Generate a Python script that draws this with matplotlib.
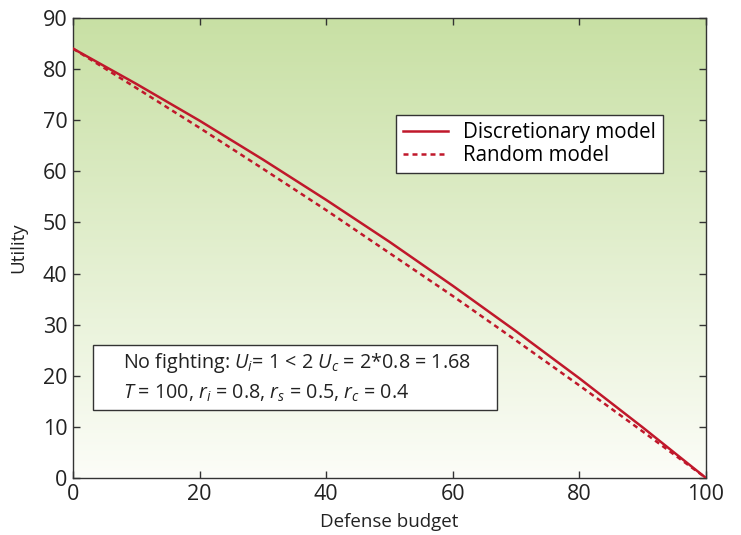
import matplotlib
matplotlib.use("Agg")
import matplotlib.pyplot as plt
from matplotlib.patches import Rectangle
import numpy as np

budget = [0, 10, 20, 30, 40, 50, 60, 70, 80, 90, 100]
discretionary = [84.0, 77.1, 69.9, 62.3, 54.4, 46.2, 37.6, 28.7, 19.5, 9.9, 0.0]
random_model = [84.0, 76.3, 68.5, 60.5, 52.4, 44.0, 35.6, 26.9, 18.1, 9.1, 0.0]
xticks = [0, 20, 40, 60, 80, 100]
yticks = [0, 10, 20, 30, 40, 50, 60, 70, 80, 90]

plt.rcParams['font.family'] = ['Open Sans', 'DejaVu Sans']
plt.rcParams['mathtext.fontset'] = 'custom'
plt.rcParams['mathtext.rm'] = 'Open Sans'
plt.rcParams['mathtext.it'] = 'Open Sans:italic'

fig = plt.figure(figsize=(7.41, 5.35), dpi=100)
ax = fig.add_axes([0.0985, 0.1065, 0.8543, 0.86])

top = np.array([200, 224, 164]) / 255
bot = np.array([252, 253, 248]) / 255
t = np.linspace(0, 1, 256)[:, None]
grad = (top * (1 - t) + bot * t)[:, None, :].repeat(2, axis=1)
ax.imshow(grad, extent=[0, 100, 0, 90], aspect='auto', zorder=0, origin='upper')

red = '#c0182b'
ax.plot(budget, discretionary, color=red, lw=1.8, label='Discretionary model', zorder=3)
ax.plot(budget, random_model, color=red, lw=1.8, ls=(0, (2.0, 1.6)), label='Random model', zorder=3)

ax.set_xlim(0, 100)
ax.set_ylim(0, 90)
ax.set_xticks(xticks)
ax.set_yticks(yticks)
ax.tick_params(direction='in', top=True, right=True, labelsize=15.5, length=5, width=1, pad=4,
               colors='#333333', labelcolor='#222222')
for s in ax.spines.values():
    s.set_color('#333333')
    s.set_linewidth(1)
ax.set_xlabel('Defense budget', fontsize=13.5, labelpad=6, color='#222222')
ax.set_ylabel('Utility', fontsize=13.5, labelpad=11, color='#222222')

leg = ax.legend(loc='upper left', bbox_to_anchor=(0.51, 0.79), fontsize=14.8, frameon=True, fancybox=False,
                edgecolor='#333333', framealpha=1, borderpad=0.35, handlelength=2.2, handletextpad=0.7,
                labelspacing=0.1, borderaxespad=0)
leg.get_frame().set_linewidth(1)

ax.add_patch(Rectangle((0.0316, 0.148), 0.6382, 0.141, transform=ax.transAxes, facecolor='white',
                       edgecolor='#333333', linewidth=1, zorder=4))
txt = ('No fighting: $U_i$= 1 < 2 $U_c$ = 2*0.8 = 1.68\n'
       '$T$ = 100, $r_i$ = 0.8, $r_s$ = 0.5, $r_c$ = 0.4')
ax.text(0.079, 0.2185, txt, transform=ax.transAxes, fontsize=14.2, va='center', ha='left', color='#222222',
        linespacing=1.45, zorder=5)

fig.savefig('out.png', dpi=100)
